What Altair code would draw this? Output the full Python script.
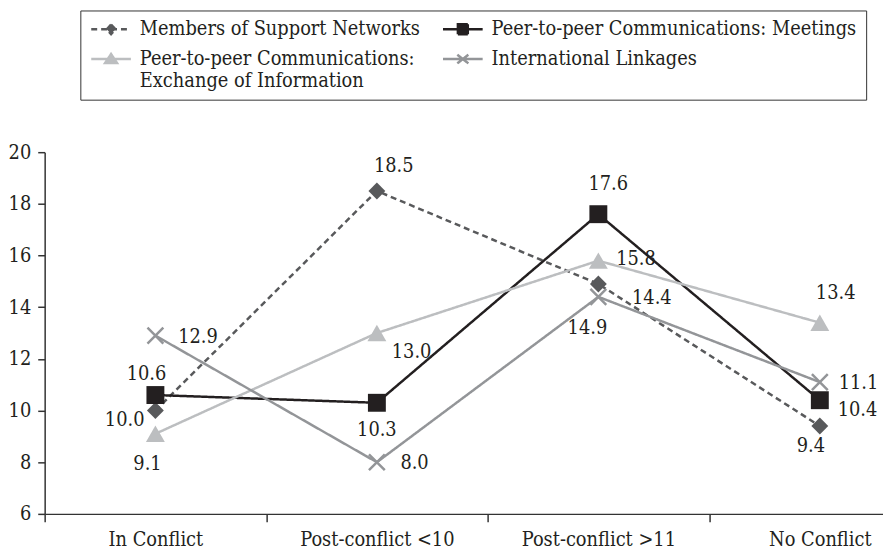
import altair as alt
import pandas as pd

# ---------------- data ----------------
CATEGORIES = ["In Conflict", "Post-conflict <10", "Post-conflict >11", "No Conflict"]
SERIES = [
    "Members of Support Networks",
    "Peer-to-peer Communications: Meetings",
    "Peer-to-peer Communications: Exchange of Information",
    "International Linkages",
]
MEMBERS = [10.0, 18.5, 14.9, 9.4]
MEETINGS = [10.6, 10.3, 17.6, 10.4]
EXCHANGE = [9.1, 13.0, 15.8, 13.4]
LINKAGES = [12.9, 8.0, 14.4, 11.1]
Y_TICKS = [6, 8, 10, 12, 14, 16, 18, 20]

VALUES = [MEMBERS, MEETINGS, EXCHANGE, LINKAGES]
rows = []
for s, vals in zip(SERIES, VALUES):
    for ci, (c, v) in enumerate(zip(CATEGORIES, vals)):
        rows.append({"series": s, "category": c, "ci": ci, "value": v})
df = pd.DataFrame(rows)

# ---------------- styles ----------------
FONT = "DejaVu Serif Condensed, DejaVu Serif, serif"
FS = 20
INK = "#231f20"
COLORS = ["#58595b", "#231f20", "#bcbec0", "#939598"]
DASHES = [[6, 4], [1, 0], [1, 0], [1, 0]]
X_PATH = "M-1,-1L1,1M-1,1L1,-1"
POINT_SHAPES = ["diamond", "square", "triangle-up", X_PATH]
POINT_SIZES = [290, 400, 380, 256]
# legend symbols: line segment + marker (unit = 4px at symbolSize 64)
LEGEND_PATHS = [
    "M-5,0H5M0,-1.2L1.1,0L0,1.2L-1.1,0Z",
    "M-5,0H5M-1.25,-1.25H1.25V1.25H-1.25Z",
    "M-5,0H5M-1.5,1L0,-1.25L1.5,1Z",
    "M-5,0H5M-1.4,-1.1L1.4,1.1M-1.4,1.1L1.4,-1.1",
]
# legend is laid out column by column: order so rows read as in the original
LEGEND_ORDER = [0, 2, 1, 3]
LEG_DOMAIN = [SERIES[i] for i in LEGEND_ORDER]
LEG_COLORS = [COLORS[i] for i in LEGEND_ORDER]
LEG_PATHS = [LEGEND_PATHS[i] for i in LEGEND_ORDER]
LEG_DASHES = [DASHES[i] for i in LEGEND_ORDER]

# label nudges (dx, dy) per series/category
NUDGE = {
    (0, 0): (-31, 10), (0, 1): (17, -25), (0, 2): (-11, 45), (0, 3): (-9, 20),
    (1, 0): (-9, -21), (1, 1): (0, 28), (1, 2): (10, -30), (1, 3): (38, 10),
    (2, 0): (-8, 31), (2, 1): (35, 19), (2, 2): (38, -2), (2, 3): (16, -30),
    (3, 0): (43, 1), (3, 1): (38, 1), (3, 2): (54, 1), (3, 3): (39, 1),
}

x_enc = alt.X(
    "category:N",
    sort=CATEGORIES,
    scale=alt.Scale(type="band", domain=CATEGORIES, range=[0, 894],
                    paddingInner=0, paddingOuter=0),
    axis=alt.Axis(title=None, tickBand="extent", labelAngle=0, labelFont=FONT,
                  labelFontSize=FS, labelColor=INK, labelPadding=8, tickSize=8,
                  domainColor="#333333", tickColor="#333333", domainWidth=1.5,
                  tickWidth=1.5, grid=False),
)
y_enc = alt.Y(
    "value:Q",
    scale=alt.Scale(domain=[6, 20], nice=False, zero=False),
    axis=alt.Axis(title=None, values=Y_TICKS, format="d", tickSize=7, labelPadding=7,
                  labelFont=FONT, labelFontSize=FS, labelColor=INK, grid=False,
                  domainColor="#333333", tickColor="#333333", domainWidth=1.5,
                  tickWidth=1.5),
)
color_enc = alt.Color("series:N", scale=alt.Scale(domain=SERIES, range=COLORS), legend=None)

base = alt.Chart(df)

lines = base.mark_line(strokeWidth=2.5).encode(
    x=x_enc, y=y_enc, color=color_enc,
    strokeDash=alt.StrokeDash("series:N", scale=alt.Scale(domain=SERIES, range=DASHES), legend=None),
    order=alt.Order("ci:Q"),
)

points = base.transform_filter(alt.datum.series != SERIES[3]).mark_point(
    filled=True, opacity=1, strokeWidth=0
).encode(
    x=x_enc, y=y_enc, color=color_enc,
    shape=alt.Shape("series:N", scale=alt.Scale(domain=SERIES, range=POINT_SHAPES), legend=None),
    size=alt.Size("series:N", scale=alt.Scale(domain=SERIES, range=POINT_SIZES), legend=None),
)

crosses = base.transform_filter(alt.datum.series == SERIES[3]).mark_point(
    filled=False, opacity=1, strokeWidth=2.5, shape=X_PATH, size=POINT_SIZES[3]
).encode(x=x_enc, y=y_enc, color=color_enc)

label_layers = []
for si, s in enumerate(SERIES):
    for ci, c in enumerate(CATEGORIES):
        dx, dy = NUDGE[(si, ci)]
        label_layers.append(
            base.transform_filter((alt.datum.series == s) & (alt.datum.category == c))
            .mark_text(dx=dx, dy=dy, font=FONT, fontSize=FS, color=INK,
                       align="center", baseline="middle")
            .encode(x=x_enc, y=y_enc, text=alt.Text("value:Q", format=".1f"))
        )

leg = alt.Legend(
    title=None, orient="none", legendX=36, legendY=-143, columns=2,
    columnPadding=18, rowPadding=10, symbolSize=64, symbolStrokeWidth=2.5,
    symbolOffset=12,
    labelFont=FONT, labelFontSize=FS, labelColor=INK, labelLimit=700,
    labelOffset=19, strokeColor="#333333", padding=9, fillColor="white",
    labelExpr="datum.label == 'Peer-to-peer Communications: Exchange of Information' ? ['Peer-to-peer Communications:', 'Exchange of Information'] : datum.label",
)

legend_layer = base.transform_filter("false").mark_point(
    filled=True, opacity=1, size=64, strokeWidth=2.5
).encode(
    shape=alt.Shape("series:N", scale=alt.Scale(domain=LEG_DOMAIN, range=LEG_PATHS), legend=leg),
    fill=alt.Fill("series:N", scale=alt.Scale(domain=LEG_DOMAIN, range=LEG_COLORS), legend=leg),
    stroke=alt.Stroke("series:N", scale=alt.Scale(domain=LEG_DOMAIN, range=LEG_COLORS), legend=leg),
    strokeDash=alt.StrokeDash("series:N", scale=alt.Scale(domain=LEG_DOMAIN, range=LEG_DASHES), legend=leg),
)

chart = alt.layer(lines, points, crosses, *label_layers, legend_layer).resolve_scale(
    shape="independent", strokeDash="independent", fill="independent", stroke="independent"
).properties(
    width=846, height=365,
    autosize=alt.AutoSizeParams(type="none"),
    padding={"left": 37, "top": 143, "right": 0, "bottom": 40},
    background="white",
).configure_view(stroke=None)

chart.save("out.html", embed_options={"renderer": "svg", "actions": False})
